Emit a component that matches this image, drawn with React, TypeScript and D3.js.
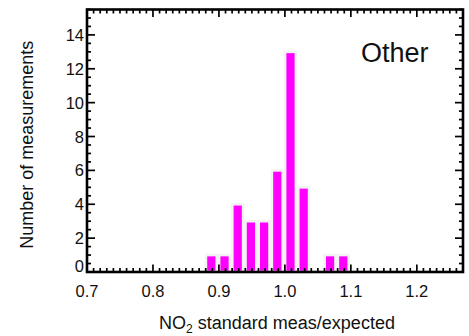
import React from "react";
import * as d3 from "d3";

const binStarts = [0.88, 0.9, 0.92, 0.94, 0.96, 0.98, 1.0, 1.02, 1.04, 1.06, 1.08];
const counts = [1, 1, 4, 3, 3, 6, 13, 5, 0, 1, 1];
const binWidth = 0.02;
const xTickLabels = ["0.7", "0.8", "0.9", "1.0", "1.1", "1.2"];
const yTickLabels = ["0", "2", "4", "6", "8", "10", "12", "14"];
const panelLabel = "Other";

const W = 469;
const H = 336;
const M = { left: 87, right: 463, top: 9.5, bottom: 272 };
const FONT = "'Liberation Sans', Arial, Helvetica, sans-serif";

export default function App() {
  const x = d3.scaleLinear().domain([0.7, 1.27]).range([M.left, M.right]);
  const y = d3.scaleLinear().domain([0, 15.5]).range([M.bottom, M.top]);

  const xMinor = d3.range(0, 58).map((i) => 0.7 + i * 0.01);
  const yMinor = d3.range(0, 32).map((i) => i * 0.5);
  const xMajor = xTickLabels.map(Number);
  const yMajor = yTickLabels.map(Number);

  const isMajorX = (v: number) => Math.abs(v * 10 - Math.round(v * 10)) < 1e-6;
  const isMajorY = (v: number) => Math.abs(v / 2 - Math.round(v / 2)) < 1e-6;

  const bw = x(0.7 + binWidth) - x(0.7);
  const fillW = bw * 0.82;

  return (
    <svg width={W} height={H} style={{ position: "absolute", left: 0, top: 0, background: "#fff" }}>
      <rect x={0} y={0} width={W} height={H} fill="#fff" />
      <g>
        {counts.map((c, i) =>
          c > 0 ? (
            <rect
              key={i}
              x={x(binStarts[i] + binWidth / 2) - 1 - fillW / 2}
              y={y(c)}
              width={fillW}
              height={y(0) - y(c)}
              fill="#ff00ff"
              stroke="#f3f3f3"
              strokeWidth={2.6}
            />
          ) : null
        )}
      </g>
      <g stroke="#000" strokeWidth={1.7}>
        {xMinor
          .filter((v) => !isMajorX(v))
          .map((v, i) => (
            <g key={"xm" + i}>
              <line x1={x(v)} x2={x(v)} y1={M.bottom} y2={M.bottom - 4} />
              <line x1={x(v)} x2={x(v)} y1={M.top} y2={M.top + 4} />
            </g>
          ))}
        {xMajor.map((v, i) => (
          <g key={"xM" + i}>
            <line x1={x(v)} x2={x(v)} y1={M.bottom} y2={M.bottom - 7.5} />
            <line x1={x(v)} x2={x(v)} y1={M.top} y2={M.top + 7.5} />
          </g>
        ))}
        {yMinor
          .filter((v) => !isMajorY(v))
          .map((v, i) => (
            <g key={"ym" + i}>
              <line x1={M.left} x2={M.left + 4} y1={y(v)} y2={y(v)} />
              <line x1={M.right} x2={M.right - 4} y1={y(v)} y2={y(v)} />
            </g>
          ))}
        {yMajor.map((v, i) => (
          <g key={"yM" + i}>
            <line x1={M.left} x2={M.left + 8} y1={y(v)} y2={y(v)} />
            <line x1={M.right} x2={M.right - 8} y1={y(v)} y2={y(v)} />
          </g>
        ))}
      </g>
      <rect
        x={M.left}
        y={M.top}
        width={M.right - M.left}
        height={M.bottom - M.top}
        fill="none"
        stroke="#000"
        strokeWidth={2.6}
      />
      <g fontFamily={FONT} fontSize={16.5} fill="#111">
        {xTickLabels.map((t, i) => (
          <text key={"xl" + i} x={x(xMajor[i])} y={M.bottom + 24.5} textAnchor="middle">
            {t}
          </text>
        ))}
        {yTickLabels.map((t, i) => {
          const cy = y(yMajor[i]) + 6;
          return (
            <text key={"yl" + i} x={M.left - 3} y={Math.min(cy, M.bottom)} textAnchor="end">
              {t}
            </text>
          );
        })}
      </g>
      <text
        fontFamily={FONT}
        fontSize={18}
        fill="#111"
        textAnchor="middle"
        transform={`translate(33, ${(M.top + M.bottom) / 2 + 4}) rotate(-90)`}
      >
        Number of measurements
      </text>
      <text
        fontFamily={FONT}
        fontSize={18}
        fill="#111"
        textAnchor="middle"
        x={(M.left + M.right) / 2 + 2}
        y={329}
      >
        NO
        <tspan fontSize={12} dy={4}>2</tspan>
        <tspan dy={-4}> standard meas/expected</tspan>
      </text>
      <text fontFamily={FONT} fontSize={27} fill="#111" x={361} y={62}>
        {panelLabel}
      </text>
    </svg>
  );
}
